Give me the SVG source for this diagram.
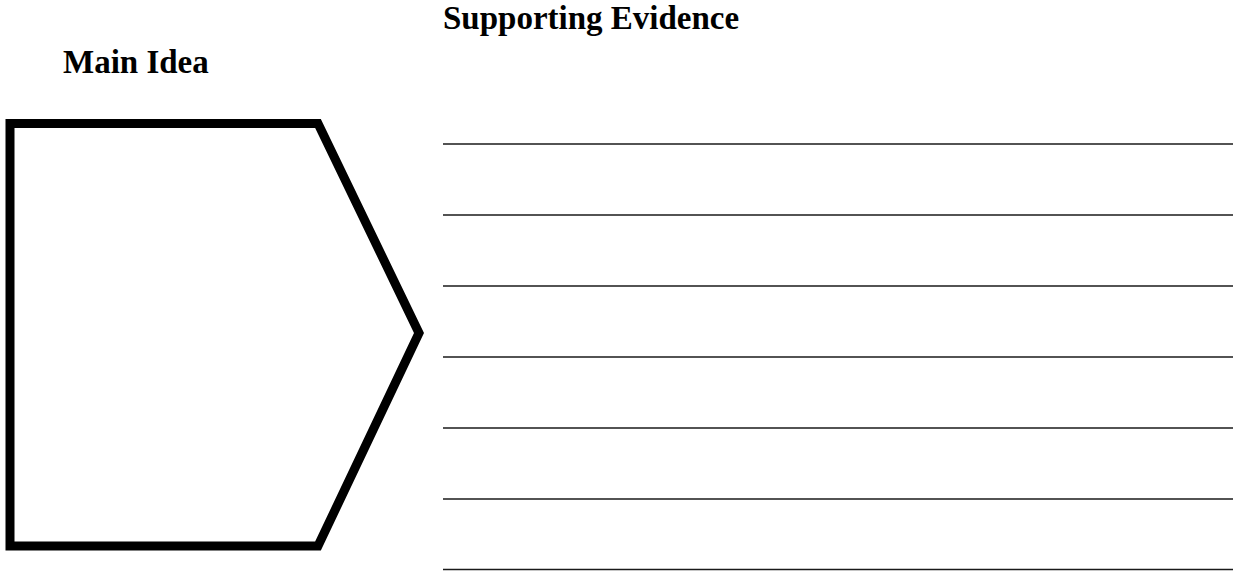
<svg xmlns="http://www.w3.org/2000/svg" width="1240" height="571" viewBox="0 0 1240 571">
  <style>
    .title { font-family: "Liberation Serif", "Times New Roman", serif; font-weight: bold; font-size: 33px; fill: #000; }
    .rule { stroke: #1a1a1a; stroke-width: 1.6; fill: none; }
    .box { fill: none; stroke: #000; stroke-width: 9; stroke-linejoin: miter; }
  </style>
  <rect x="0" y="0" width="1240" height="571" fill="#fff"/>
  <g id="heading-main">
    <text class="title" x="63" y="73">Main Idea</text>
  </g>
  <g id="heading-evidence">
    <text class="title" x="443" y="29">Supporting Evidence</text>
  </g>
  <g id="main-idea-box">
    <polygon class="box" points="10,123.5 318,123.5 419,333 318,546 10,546"/>
  </g>
  <g id="evidence-lines">
    <line class="rule" x1="443" y1="144" x2="1233" y2="144"/>
    <line class="rule" x1="443" y1="215" x2="1233" y2="215"/>
    <line class="rule" x1="443" y1="286" x2="1233" y2="286"/>
    <line class="rule" x1="443" y1="357" x2="1233" y2="357"/>
    <line class="rule" x1="443" y1="428" x2="1233" y2="428"/>
    <line class="rule" x1="443" y1="499" x2="1233" y2="499"/>
    <line class="rule" x1="443" y1="569.5" x2="1233" y2="569.5"/>
  </g>
</svg>
